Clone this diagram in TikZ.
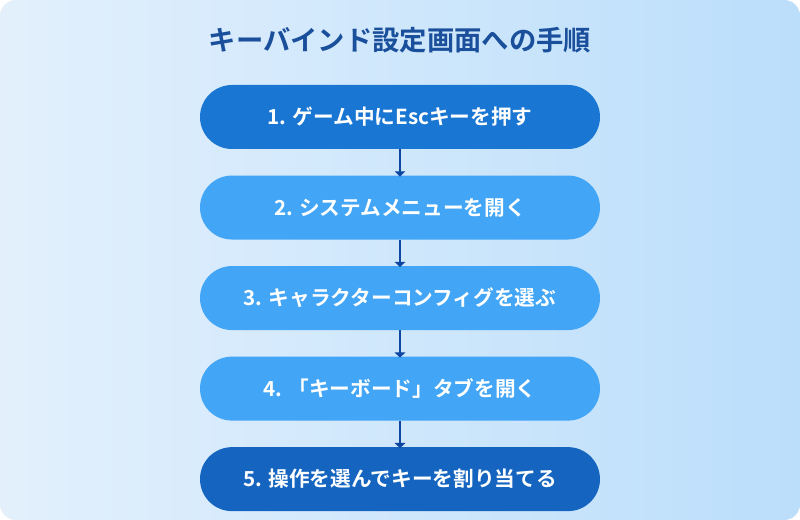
\documentclass[tikz,border=0pt]{standalone}
\usepackage{fontspec}
\setmainfont{Noto Sans CJK JP}[BoldFont={Noto Sans CJK JP Bold}]
\usetikzlibrary{positioning,arrows.meta}
\definecolor{bgA}{HTML}{E3F0FC}
\definecolor{bgB}{HTML}{BBDEFB}
\definecolor{titleblue}{HTML}{1A4F9C}
\definecolor{stepdark}{HTML}{1976D2}
\definecolor{steplight}{HTML}{42A5F5}
\definecolor{stepdeep}{HTML}{1565C0}
\definecolor{arrowblue}{HTML}{0D47A1}
\tikzset{
  stepbox/.style={rounded corners=24pt, minimum width=300pt, minimum height=48pt,
    text=white, font=\bfseries\fontsize{15.5}{18}\selectfont, inner sep=0pt},
  link/.style={draw=arrowblue, line width=1.8pt, -{Triangle[width=8pt,length=4pt]}, shorten >=-1pt}
}
\begin{document}
\begin{tikzpicture}[x=0.75pt,y=-0.75pt]
  \useasboundingbox (0,0) rectangle (800,520);
  \shade[rounded corners=12pt, left color=bgA, right color=bgB] (0,0) rectangle (800,520);
  \node[text=titleblue, font=\bfseries\fontsize{20.5}{24}\selectfont] (title) at (400,40) {キーバインド設定画面への手順};
  \node[stepbox, fill=stepdark] (s1) at (400,117) {1. ゲーム中にEscキーを押す};
  \node[stepbox, fill=steplight, below=19.5pt of s1] (s2) {2. システムメニューを開く};
  \node[stepbox, fill=steplight, below=19.5pt of s2] (s3) {3. キャラクターコンフィグを選ぶ};
  \node[stepbox, fill=steplight, below=19.5pt of s3] (s4) {4. 「キーボード」タブを開く};
  \node[stepbox, fill=stepdeep, below=19.5pt of s4] (s5) {5. 操作を選んでキーを割り当てる};
  \foreach \a/\b in {s1/s2,s2/s3,s3/s4,s4/s5}
    \draw[link] (\a) -- (\b);
\end{tikzpicture}
\end{document}
